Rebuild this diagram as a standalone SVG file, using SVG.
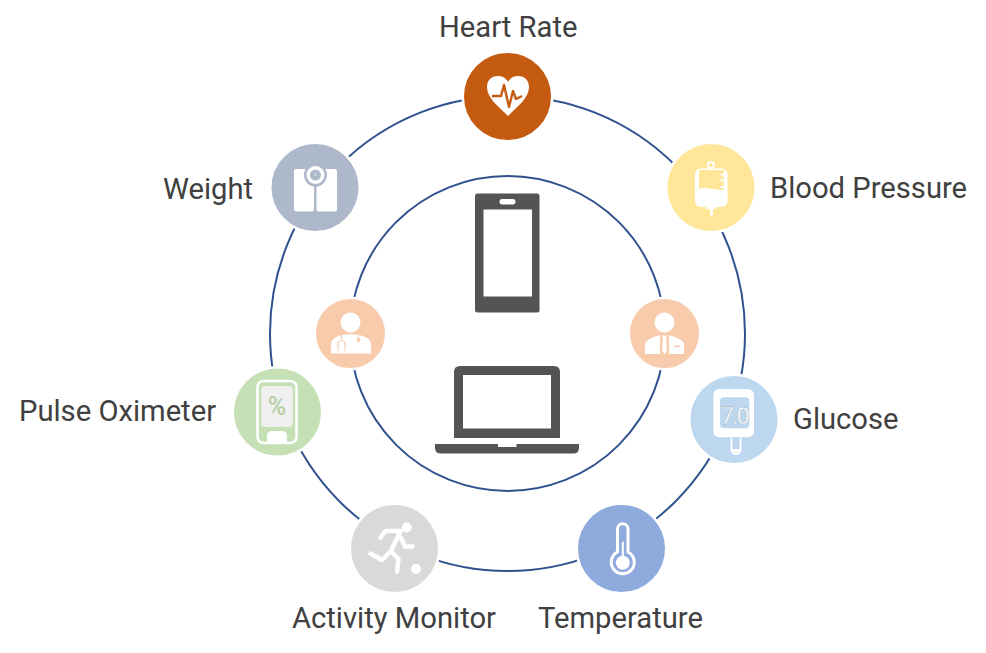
<svg xmlns="http://www.w3.org/2000/svg" width="986" height="653" viewBox="0 0 986 653">
<style>
.ring{fill:none;stroke:#2f528f;stroke-width:2}
.halo{stroke:#fff;stroke-width:2.500}
.lbl{font-family:Roboto,"Liberation Sans",sans-serif;font-size:29.2px;fill:#404040}
.w{fill:#fff}
.wl{fill:none;stroke:#fff}
.dev{fill:#545454}
</style>
<rect width="986" height="653" fill="#fff"/>
<g id="connectors">
<circle class="ring" cx="507.5" cy="333.5" r="237.5"/>
<circle class="ring" cx="507.5" cy="333.5" r="157.5"/>
</g>
<g id="heart-rate">
<circle class="halo" cx="507.5" cy="96.5" r="44.750" fill="#c55a11"/>
<path class="w" d="M508 116 C498 106 487 98 487 87 C487 79 493 76 498 76 C502 76 506 78 508 82 C510 78 514 76 518 76 C523 76 529 79 529 87 C529 98 518 106 508 116Z"/>
<path fill="none" stroke="#c55a11" stroke-width="2.400" stroke-linejoin="round" d="M492 96 H501 L504 85 L509 107 L513 91 L516 99 L522 96"/>
<text class="lbl" x="439" y="36.500">Heart Rate</text>
</g>
<g id="blood-pressure">
<circle class="halo" cx="711" cy="187.500" r="44.750" fill="#ffe699"/>
<rect class="w" x="695" y="168.500" width="32.500" height="38.500" rx="6"/>
<path fill="#ffe699" d="M701 170 H724 V190 C712 190 706 186 699 189 V172 Q699 170 701 170Z"/>
<path class="w" d="M720.500 173.500 H725 V175.500 H720.500Z M720.500 179.500 H725 V181.500 H720.500Z M720.500 186 H725 V188 H720.500Z M706 207 H716 V209 H713 V215.500 H710 V209 H706Z"/>
<circle class="wl" stroke-width="2" cx="711" cy="165" r="3"/>
<text class="lbl" x="770" y="197.500">Blood Pressure</text>
</g>
<g id="glucose">
<circle class="halo" cx="734" cy="419.500" r="44.750" fill="#bdd7ee"/>
<rect class="w" x="713.300" y="389" width="40.700" height="48.300" rx="6"/>
<rect x="720" y="397.300" width="29.300" height="31" rx="4" fill="#bdd7ee"/>
<text x="734.500" y="424.300" text-anchor="middle" letter-spacing="-1.500" font-family="Roboto,'Liberation Sans',sans-serif" font-size="23" fill="#fff" stroke="#8a9aa8" stroke-width=".3">7.0</text>
<path class="wl" stroke-width="2" d="M731.500 438 V449.500 A4.500 4.500 0 0 0 740.500 449.500 V438"/>
<path class="w" d="M732 449 H740 V451 Q736 454 732 451Z"/>
<text class="lbl" x="793" y="428.500">Glucose</text>
</g>
<g id="temperature">
<circle class="halo" cx="621.500" cy="548.500" r="44.750" fill="#8faadc"/>
<path class="wl" stroke-width="3" d="M617.500 552 V529 A5.250 5.250 0 0 1 628 529 V552 A11.500 11.500 0 1 1 617.500 552Z"/>
<circle class="w" cx="622.800" cy="562.800" r="7"/>
<rect class="w" x="621.800" y="541.700" width="2" height="18"/>
<text class="lbl" x="538" y="627.500">Temperature</text>
</g>
<g id="activity-monitor">
<circle class="halo" cx="394.500" cy="548.500" r="44.750" fill="#d9d9d9"/>
<circle class="w" cx="406.700" cy="527.500" r="5"/>
<path class="wl" stroke-width="4.500" stroke-linecap="round" stroke-linejoin="round" d="M380.500 537.500 L385.500 531 H400.500 L391 551 L398.500 559 L397 571.500 M401 538 L405 546.500 H412.500 M390 552 L382 560 L370.500 553.500"/>
<circle class="w" cx="416" cy="569" r="5"/>
<text class="lbl" x="292" y="627.500">Activity Monitor</text>
</g>
<g id="pulse-oximeter">
<circle class="halo" cx="277.500" cy="412" r="44.750" fill="#c5e0b4"/>
<rect class="wl" stroke-width="2.500" x="257.500" y="381" width="39" height="62" rx="6"/>
<rect x="261.300" y="386" width="31.500" height="41" rx="4" fill="#f0f0f0"/>
<path class="w" d="M267 442 V436 Q267 431 272 431 H282 Q287 431 287 436 V442Z"/>
<text x="277" y="415" text-anchor="middle" font-family="Roboto,'Liberation Sans',sans-serif" font-size="25" font-weight="500" fill="#b5cfa5">%</text>
<text class="lbl" x="19" y="421">Pulse Oximeter</text>
</g>
<g id="weight">
<circle class="halo" cx="315" cy="187.500" r="44.750" fill="#adb9ca"/>
<rect class="w" x="294" y="169" width="20" height="42.500" rx="2"/>
<rect class="w" x="316.500" y="169" width="20.500" height="42.500" rx="2"/>
<circle cx="315.500" cy="175" r="11.500" fill="#adb9ca"/>
<circle class="w" cx="315.500" cy="175" r="9"/>
<circle cx="315.500" cy="175" r="5.500" fill="#adb9ca"/>
<path class="w" d="M317 172 L315.500 176 L314.500 175.500Z"/>
<text class="lbl" x="163" y="198.500">Weight</text>
</g>
<g id="doctor">
<circle class="halo" cx="350.500" cy="333.500" r="35.750" fill="#f8cbad"/>
<circle class="w" cx="350.500" cy="322.500" r="10"/>
<path class="w" d="M331 353.500 V344 Q331 338 340 335.500 Q350 333 361 335.500 Q370.500 338 371 344 V353.500Z"/>
<path fill="none" stroke="#f8cbad" stroke-width="1.200" d="M341.500 335 V339 M338.500 351 Q336 341 341.500 340 Q347 341 344.500 351"/>
<circle cx="358.500" cy="340" r="2" fill="#f8cbad"/>
<path fill="none" stroke="#f8cbad" stroke-width="1" d="M358.500 335 V339"/>
</g>
<g id="businessman">
<circle class="halo" cx="664.500" cy="333.500" r="35.750" fill="#f8cbad"/>
<circle class="w" cx="664.500" cy="322.500" r="10"/>
<path class="w" d="M645 354 V344 Q646 339 660 335 V354Z M669 335 Q683 339 684 344 V354 H669Z"/>
<path class="w" d="M662 335.500 H667 L666 339 L667 351 L664.500 354 L662 351 L663 339Z"/>
<rect x="674" y="345.500" width="6" height="1.500" fill="#f8cbad"/>
</g>
<g id="phone">
<rect class="dev" x="475" y="193.500" width="64.500" height="119" rx="2.500"/>
<rect class="w" x="483.500" y="209.500" width="48.500" height="87"/>
<rect class="w" x="499.500" y="199" width="16" height="5.500" rx="2.700"/>
</g>
<g id="laptop">
<path class="dev" d="M454 438 V372 Q454 366 460 366 H554 Q560 366 560 372 V438Z"/>
<rect class="w" x="463" y="375" width="88" height="53.500"/>
<path class="dev" d="M435 444 H498 V447 H516.500 V444 H579 V448 Q579 453.500 573 453.500 H441 Q435 453.500 435 448Z"/>
</g>
</svg>
